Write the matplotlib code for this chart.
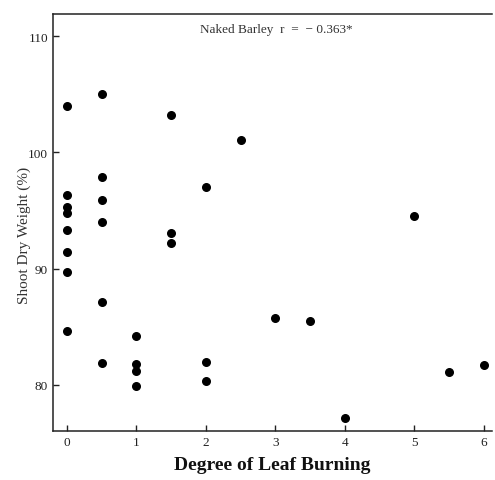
import matplotlib
matplotlib.use("Agg")
import matplotlib.pyplot as plt

# leaf burning degree vs shoot dry weight
burn_0 = [0, 0, 0, 0, 0, 0, 0, 0]
weight_0 = [104.0, 96.3, 95.3, 94.8, 93.3, 91.4, 89.7, 84.6]
burn_05 = [0.5, 0.5, 0.5, 0.5, 0.5, 0.5]
weight_05 = [105.0, 97.9, 95.9, 94.0, 87.1, 81.9]
burn_1 = [1, 1, 1, 1]
weight_1 = [84.2, 81.8, 81.2, 79.9]
burn_15 = [1.5, 1.5, 1.5]
weight_15 = [103.2, 93.1, 92.2]
burn_2 = [2, 2, 2]
weight_2 = [97.0, 82.0, 80.3]
burn_rest = [2.5, 3, 3.5, 4, 5, 5.5, 6]
weight_rest = [101.1, 85.8, 85.5, 77.2, 94.5, 81.1, 81.7]

xticks = [0, 1, 2, 3, 4, 5, 6]
yticks = [80, 90, 100, 110]

x = burn_0 + burn_05 + burn_1 + burn_15 + burn_2 + burn_rest
y = weight_0 + weight_05 + weight_1 + weight_15 + weight_2 + weight_rest

plt.rcParams['font.family'] = ['Liberation Serif', 'DejaVu Serif']

fig = plt.figure(figsize=(4.95, 4.81), dpi=100)
ax = fig.add_axes([0.107, 0.102, 0.887, 0.867])

ax.scatter(x, y, s=30, color='black', zorder=3)

ax.set_xlim(-0.2, 6.12)
ax.set_ylim(76.05, 111.9)
ax.set_xticks(xticks)
ax.set_yticks(yticks)
ax.tick_params(direction='in', length=4, width=1, labelsize=9.5, colors='#222222')
ax.spines['right'].set_visible(False)
for s in ['left', 'bottom', 'top']:
    ax.spines[s].set_linewidth(1.1)
    ax.spines[s].set_color('#222222')

ax.text(1.92, 110.6, 'Naked Barley  r  =  \u2212 0.363*', fontsize=9.5,
        va='center', color='#333333')
ax.set_ylabel('Shoot Dry Weight (%)', fontsize=11, color='#333333')
ax.yaxis.set_label_coords(-0.05, 0.47)
ax.set_xlabel('Degree of Leaf Burning', fontsize=14, fontweight='bold', color='#111111', labelpad=6)

fig.savefig('out.png', dpi=100)
